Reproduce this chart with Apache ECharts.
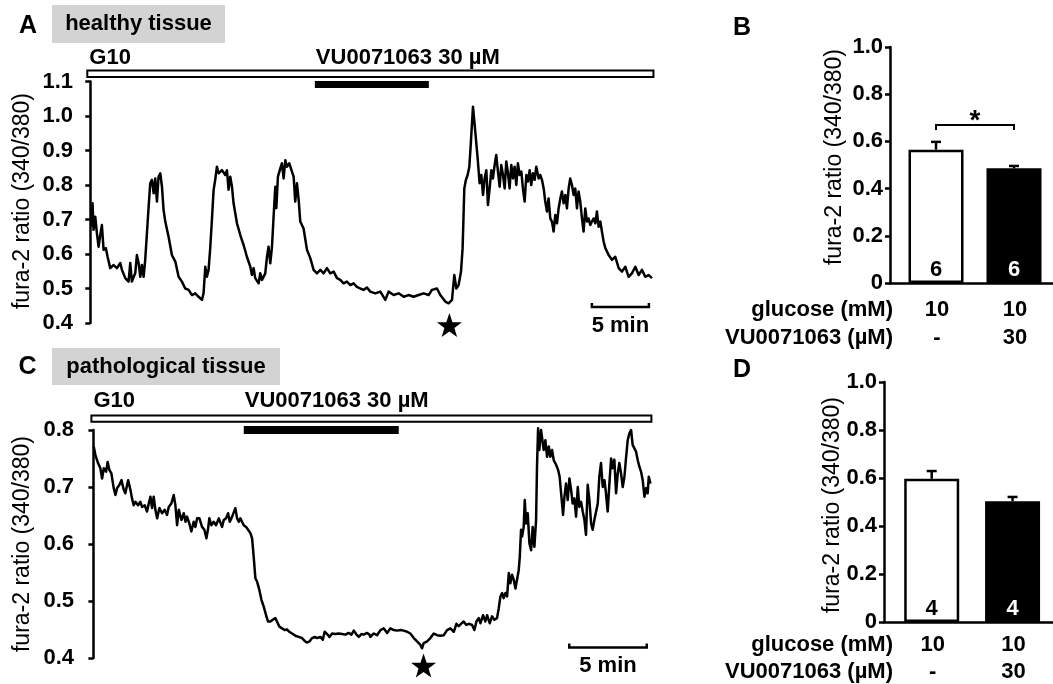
<!DOCTYPE html>
<html>
<head>
<meta charset="utf-8">
<script src="https://cdn.jsdelivr.net/npm/echarts@6/dist/echarts.min.js"></script>
<style>
html, body { margin: 0; padding: 0; background: #fff; }
#chart { width: 1053px; height: 684px; }
</style>
</head>
<body>
<div id="chart"></div>
<script>
// ---- fura-2 ratio traces: [time (min), ratio 340/380] ----
const healthyTrace = [
[0.09,0.679],[0.20,0.747],[0.29,0.670],[0.44,0.708],[0.58,0.661],[0.73,0.621],[0.88,0.655],[1.02,0.684],[1.17,0.612],[1.37,0.617],[1.52,0.592],[1.75,0.559],[2.05,0.568],[2.34,0.559],[2.63,0.574],[2.78,0.554],[3.07,0.530],[3.36,0.520],[3.51,0.574],[3.65,0.520],[3.95,0.545],[4.09,0.597],[4.24,0.574],[4.39,0.534],[4.53,0.568],[4.68,0.534],[4.82,0.583],[4.97,0.660],[5.12,0.737],[5.26,0.805],[5.41,0.815],[5.56,0.776],[5.70,0.819],[5.85,0.752],[5.99,0.824],[6.14,0.834],[6.29,0.795],[6.43,0.728],[6.58,0.694],[6.87,0.650],[7.16,0.597],[7.46,0.578],[7.75,0.534],[8.04,0.520],[8.33,0.500],[8.63,0.496],[8.92,0.481],[9.21,0.486],[9.50,0.476],[9.80,0.467],[9.94,0.487],[10.09,0.563],[10.23,0.534],[10.38,0.554],[10.53,0.621],[10.67,0.699],[10.82,0.786],[10.96,0.815],[11.11,0.853],[11.26,0.834],[11.55,0.843],[11.84,0.829],[11.99,0.843],[12.13,0.786],[12.28,0.824],[12.43,0.795],[12.57,0.747],[12.87,0.689],[13.16,0.655],[13.45,0.626],[13.74,0.592],[14.04,0.563],[14.18,0.539],[14.33,0.559],[14.47,0.530],[14.77,0.515],[14.91,0.544],[15.06,0.525],[15.35,0.544],[15.50,0.592],[15.64,0.621],[15.79,0.573],[15.94,0.621],[16.08,0.708],[16.23,0.795],[16.32,0.733],[16.46,0.824],[16.67,0.848],[16.81,0.863],[16.96,0.819],[17.11,0.872],[17.25,0.853],[17.46,0.863],[17.69,0.839],[17.84,0.824],[17.98,0.752],[18.13,0.805],[18.28,0.757],[18.42,0.694],[18.71,0.674],[19.01,0.612],[19.30,0.588],[19.59,0.554],[19.88,0.544],[20.18,0.554],[20.47,0.544],[20.76,0.559],[21.05,0.544],[21.35,0.549],[21.64,0.530],[21.93,0.525],[22.22,0.515],[22.51,0.520],[22.81,0.510],[23.10,0.515],[23.39,0.505],[23.68,0.500],[23.98,0.496],[24.27,0.503],
[24.56,0.491],[25.00,0.486],[25.44,0.491],[25.88,0.467],[26.17,0.491],[26.61,0.481],[27.05,0.486],[27.49,0.476],[27.92,0.481],[28.36,0.476],[28.80,0.481],[29.24,0.486],[29.68,0.481],[29.97,0.496],[30.41,0.500],[30.70,0.481],[31.14,0.462],[31.43,0.457],[31.73,0.467],[31.93,0.539],[32.11,0.500],[32.31,0.510],[32.52,0.549],[32.66,0.617],[32.81,0.790],[32.95,0.815],[33.10,0.829],[33.25,0.853],[33.39,0.926],[33.57,1.027],[33.77,0.955],[33.98,0.877],[34.15,0.805],[34.30,0.829],[34.45,0.771],[34.59,0.819],[34.74,0.843],[34.88,0.742],[35.03,0.790],[35.18,0.843],[35.32,0.819],[35.47,0.858],[35.61,0.887],[35.76,0.839],[35.91,0.795],[36.05,0.858],[36.20,0.829],[36.35,0.790],[36.49,0.868],[36.64,0.834],[36.78,0.790],[36.93,0.858],[37.08,0.819],[37.22,0.853],[37.37,0.800],[37.51,0.863],[37.66,0.829],[37.81,0.839],[37.95,0.790],[38.10,0.752],[38.25,0.829],[38.39,0.810],[38.54,0.843],[38.68,0.800],[38.83,0.834],[38.98,0.815],[39.12,0.853],[39.33,0.819],[39.47,0.829],[39.62,0.815],[39.77,0.790],[39.91,0.752],[40.06,0.723],[40.20,0.761],[40.35,0.703],[40.50,0.694],[40.64,0.665],[40.79,0.713],[40.94,0.689],[41.08,0.732],[41.23,0.761],[41.37,0.781],[41.52,0.747],[41.67,0.771],[41.81,0.732],[41.96,0.790],[42.10,0.819],[42.25,0.800],[42.40,0.771],[42.54,0.790],[42.69,0.732],[42.83,0.781],[42.98,0.752],[43.13,0.703],[43.27,0.665],[43.42,0.732],[43.57,0.694],[43.71,0.703],[43.86,0.684],[44.00,0.694],[44.15,0.703],[44.30,0.689],[44.44,0.723],[44.59,0.679],[44.74,0.694],[44.88,0.665],[45.03,0.636],[45.18,0.617],[45.47,0.597],[45.76,0.583],[46.05,0.592],[46.35,0.559],[46.64,0.549],[46.93,0.563],[47.22,0.534],[47.51,0.544],[47.81,0.563],[48.10,0.539],[48.39,0.554],[48.68,0.534],[48.98,0.539],[49.27,0.530]
];

const pathoTrace = [
[0.02,0.771],[0.13,0.756],[0.30,0.742],[0.45,0.733],[0.56,0.715],[0.67,0.733],[0.82,0.727],[0.92,0.744],[1.03,0.730],[1.16,0.724],[1.31,0.698],[1.42,0.686],[1.53,0.698],[1.68,0.704],[1.81,0.712],[1.96,0.695],[2.06,0.689],[2.24,0.712],[2.39,0.695],[2.49,0.680],[2.60,0.668],[2.71,0.674],[2.88,0.668],[3.03,0.674],[3.14,0.665],[3.31,0.668],[3.46,0.657],[3.57,0.671],[3.68,0.683],[3.78,0.663],[3.89,0.683],[4.00,0.660],[4.11,0.645],[4.26,0.663],[4.43,0.654],[4.60,0.660],[4.75,0.651],[4.86,0.665],[5.03,0.671],[5.18,0.686],[5.29,0.668],[5.40,0.633],[5.51,0.660],[5.68,0.642],[5.83,0.654],[5.94,0.639],[6.04,0.648],[6.19,0.636],[6.32,0.622],[6.47,0.639],[6.58,0.630],[6.69,0.645],[6.84,0.645],[7.01,0.630],[7.16,0.625],[7.29,0.610],[7.40,0.627],[7.48,0.645],[7.61,0.633],[7.76,0.639],[7.91,0.633],[8.09,0.645],[8.19,0.648],[8.30,0.630],[8.41,0.642],[8.56,0.645],[8.69,0.654],[8.80,0.639],[8.95,0.648],[9.05,0.648],[9.16,0.663],[9.27,0.645],[9.38,0.639],[9.48,0.645],[9.59,0.642],[9.70,0.633],[9.85,0.630],[9.98,0.625],[10.13,0.619],[10.24,0.610],[10.34,0.578],[10.45,0.540],[10.56,0.534],[10.71,0.519],[10.84,0.502],[10.99,0.490],[11.14,0.475],[11.27,0.464],[11.42,0.464],[11.57,0.467],[11.74,0.470],[11.85,0.467],[12.00,0.455],[12.17,0.452],[12.34,0.449],[12.49,0.450],[12.64,0.446],[12.82,0.443],[13.03,0.439],[13.25,0.437],[13.46,0.435],[13.63,0.430],[13.78,0.427],[13.94,0.429],[14.11,0.435],[14.28,0.437],[14.43,0.435],[14.65,0.437],[14.80,0.432],[14.92,0.446],[15.08,0.442],[15.23,0.437],[15.40,0.443],[15.61,0.442],[15.83,0.443],[16.04,0.442],[16.26,0.441],[16.47,0.444],[16.65,0.441],[16.80,0.448],[16.95,0.442],[17.12,0.437],[17.29,0.442],[17.44,0.441],[17.66,0.444],[17.81,0.441],
[17.87,0.437],[18.09,0.443],[18.30,0.440],[18.52,0.449],[18.73,0.452],[18.95,0.444],[19.16,0.452],[19.38,0.449],[19.59,0.448],[19.81,0.449],[20.02,0.448],[20.24,0.446],[20.45,0.443],[20.67,0.435],[20.88,0.429],[21.10,0.423],[21.20,0.417],[21.31,0.426],[21.53,0.429],[21.74,0.435],[21.96,0.443],[22.17,0.440],[22.39,0.439],[22.60,0.440],[22.82,0.449],[23.03,0.452],[23.25,0.446],[23.42,0.460],[23.57,0.456],[23.72,0.460],[23.89,0.464],[24.06,0.458],[24.22,0.460],[24.43,0.458],[24.58,0.449],[24.71,0.464],[24.86,0.470],[24.97,0.461],[25.14,0.475],[25.29,0.464],[25.40,0.475],[25.57,0.461],[25.72,0.473],[25.87,0.467],[26.04,0.470],[26.15,0.487],[26.26,0.508],[26.37,0.514],[26.47,0.505],[26.58,0.514],[26.69,0.508],[26.80,0.549],[26.90,0.531],[27.01,0.546],[27.12,0.537],[27.23,0.522],[27.34,0.519],[27.44,0.554],[27.51,0.578],[27.59,0.625],[27.66,0.613],[27.76,0.630],[27.83,0.677],[27.91,0.636],[28.02,0.654],[28.13,0.601],[28.24,0.589],[28.34,0.630],[28.45,0.595],[28.56,0.642],[28.62,0.736],[28.69,0.803],[28.77,0.765],[28.88,0.800],[28.99,0.803],[29.05,0.765],[29.16,0.782],[29.27,0.753],[29.38,0.771],[29.48,0.753],[29.59,0.765],[29.70,0.747],[29.85,0.739],[29.98,0.730],[30.08,0.718],[30.19,0.716],[30.30,0.651],[30.39,0.683],[30.49,0.706],[30.60,0.677],[30.71,0.715],[30.82,0.695],[30.92,0.671],[31.03,0.680],[31.14,0.648],[31.25,0.700],[31.35,0.665],[31.46,0.674],[31.57,0.657],[31.68,0.642],[31.78,0.616],[31.89,0.704],[32.00,0.677],[32.11,0.636],[32.21,0.625],[32.32,0.642],[32.43,0.645],[32.54,0.671],[32.64,0.718],[32.75,0.742],[32.86,0.700],[32.97,0.712],[33.07,0.689],[33.18,0.657],[33.29,0.706],[33.40,0.750],[33.50,0.733],[33.61,0.748],[33.72,0.689],[33.83,0.724],[33.93,0.742],[34.04,0.724],[34.15,0.700],[34.26,0.718],[34.36,0.750],[34.47,0.782],[34.58,0.794],[34.69,0.800],[34.79,0.774],[34.90,0.777],[35.01,0.762],[35.12,0.747],[35.22,0.736],[35.33,0.727],[35.44,0.712],[35.55,0.683],[35.66,0.698],[35.76,0.689],[35.83,0.718],[35.94,0.706]
];

// ---- perfusion protocol (min) ----
const healthyRecording = [-0.26, 49.4];   // G10 throughout
const healthyDrug = [19.7, 29.7];         // VU0071063 30 µM
const healthyStar = [31.5];
const healthyScaleBar = [44, 49];         // 5 min
const pathoRecording = [-0.13, 36.0];
const pathoDrug = [9.7, 19.7];
const pathoStar = [21.3];
const pathoScaleBar = [30.7, 35.7];

// ---- summary bars ----
const barPositions = [1, 2];
const glucoseRow = ['10', '10'];
const drugRow = ['-', '30'];
const healthyMean = [0.565, 0.486];
const healthySem = [0.033, 0.010];
const healthyN = [6, 6];
const pathoMean = [0.597, 0.503];
const pathoSem = [0.032, 0.018];
const pathoN = [4, 4];
const significance = [[1, 2, 0.669, '*']];

const Y_NAME = 'fura-2 ratio (340/380)';
const FONT = "'Liberation Sans', Arial, Helvetica, sans-serif";
const BOLD = 'bold 22px ' + FONT;
const STAR_PATH = 'M50,0 L61.8,35.1 L97.6,34.5 L69.1,56.3 L79.4,90.5 L50,70 L20.6,90.5 L30.9,56.3 L2.4,34.5 L38.2,35.1 Z';

const chart = echarts.init(document.getElementById('chart'), null, { renderer: 'canvas' });

function yAxisCfg(idx, min, max, interval, fmt) {
  return {
    type: 'value', gridIndex: idx, min: min, max: max, interval: interval,
    axisLine: { show: true, lineStyle: { color: '#000', width: 2.5 } },
    axisTick: { show: true, length: 5, lineStyle: { color: '#000', width: 2.5 } },
    axisLabel: { fontFamily: FONT, fontSize: 22, fontWeight: 'bold', color: '#000', margin: 7, formatter: fmt },
    splitLine: { show: false }
  };
}

function txt(text, x, y, align, vAlign, font, fill) {
  return { type: 'text', style: { text: text, x: x, y: y, align: align, verticalAlign: vAlign,
    textAlign: align, textVerticalAlign: vAlign, font: font, fill: fill || '#000' } };
}

// vertical axis title, reading bottom to top
function yName(cx, cy) {
  return { type: 'text', x: cx, y: cy, rotation: Math.PI / 2,
    style: { text: Y_NAME, x: 0, y: 0, align: 'center', verticalAlign: 'middle',
      textAlign: 'center', textVerticalAlign: 'middle', font: '23px ' + FONT, fill: '#000' } };
}

// protocol bars, star marker and time scale bar for a trace panel
function protocolSeries(idx, rec, drug, star, scale, yMax, yMin, lay) {
  return {
    type: 'custom', xAxisIndex: idx, yAxisIndex: idx, silent: true, z: 5, clip: false,
    data: [0],
    renderItem: function (params, api) {
      const top = api.coord([rec[0], yMax])[1];
      const bottom = api.coord([rec[0], yMin])[1];
      const x0 = api.coord([rec[0], yMax])[0];
      const x1 = api.coord([rec[1], yMax])[0];
      const d0 = api.coord([drug[0], yMax])[0];
      const d1 = api.coord([drug[1], yMax])[0];
      const sx = api.coord([star[0], yMin])[0];
      const s0 = api.coord([scale[0], yMin])[0];
      const s1 = api.coord([scale[1], yMin])[0];
      const sy = bottom - lay.scaleUp;
      return {
        type: 'group',
        children: [
          { type: 'rect', shape: { x: x0, y: top + lay.openY, width: x1 - x0, height: lay.openH },
            style: { fill: '#fff', stroke: '#000', lineWidth: 2 } },
          { type: 'rect', shape: { x: d0, y: top + lay.drugY, width: d1 - d0, height: lay.drugH },
            style: { fill: '#000' } },
          txt('G10', x0 + 2, top + lay.textY, 'left', 'middle', BOLD),
          txt('VU0071063 30 µM', d0 + 1, top + lay.textY, 'left', 'middle', BOLD),
          { type: 'path', shape: { pathData: STAR_PATH, x: sx - 12.5, y: bottom + lay.starDY - 12, width: 25, height: 24 },
            style: { fill: '#000' } },
          { type: 'polyline', shape: { points: [[s0, sy - 4], [s0, sy], [s1, sy], [s1, sy - 4]] },
            style: { stroke: '#000', lineWidth: 2.5, fill: null } },
          txt('5 min', (s0 + s1) / 2, bottom + lay.scaleTextDY, 'center', 'middle', BOLD)
        ]
      };
    }
  };
}

function traceSeries(idx, data) {
  return {
    type: 'line', xAxisIndex: idx, yAxisIndex: idx, data: data, showSymbol: false, symbol: 'none',
    clip: false, silent: true, lineStyle: { color: '#000', width: 2.5, join: 'round' }, z: 3
  };
}

function barSeries(idx, mean, n) {
  return {
    type: 'bar', xAxisIndex: idx, yAxisIndex: idx, barWidth: 55, silent: true, z: 2,
    data: mean.map(function (m, i) {
      return { value: [barPositions[i], m],
        itemStyle: { color: i ? '#000' : '#fff', borderColor: '#000', borderWidth: 2.5 },
        label: { color: i ? '#fff' : '#000' } };
    }),
    label: { show: true, position: 'insideBottom', distance: 2, fontFamily: FONT, fontSize: 22, fontWeight: 'bold',
      formatter: function (p) { return String(n[p.dataIndex]); } }
  };
}

function errorSeries(idx, mean, sem) {
  return {
    type: 'custom', xAxisIndex: idx, yAxisIndex: idx, silent: true, z: 4, clip: false,
    data: mean.map(function (m, i) { return [barPositions[i], m, sem[i]]; }),
    renderItem: function (params, api) {
      const x = api.value(0), m = api.value(1), e = api.value(2);
      const p0 = api.coord([x, m]);
      const p1 = api.coord([x, m + e]);
      return {
        type: 'group',
        children: [
          { type: 'line', shape: { x1: p0[0], y1: p0[1], x2: p1[0], y2: p1[1] }, style: { stroke: '#000', lineWidth: 2.5 } },
          { type: 'line', shape: { x1: p1[0] - 5, y1: p1[1], x2: p1[0] + 5, y2: p1[1] }, style: { stroke: '#000', lineWidth: 2.5 } }
        ]
      };
    }
  };
}

// condition table under the bars
function rowLabelSeries(idx, dy1, dy2) {
  return {
    type: 'custom', xAxisIndex: idx, yAxisIndex: idx, silent: true, clip: false,
    data: barPositions.map(function (p, i) { return [p, i]; }),
    renderItem: function (params, api) {
      const i = api.value(1);
      const p = api.coord([api.value(0), 0]);
      return {
        type: 'group',
        children: [
          txt(glucoseRow[i], p[0] + 1, p[1] + dy1, 'center', 'middle', BOLD),
          txt(drugRow[i], p[0] + 1, p[1] + dy2, 'center', 'middle', BOLD)
        ]
      };
    }
  };
}

function bracketSeries(idx, sig) {
  return {
    type: 'custom', xAxisIndex: idx, yAxisIndex: idx, silent: true, clip: false,
    data: sig.map(function (s) { return [s[0], s[1], s[2]]; }),
    renderItem: function (params, api) {
      const a = api.coord([api.value(0), api.value(2)]);
      const b = api.coord([api.value(1), api.value(2)]);
      return {
        type: 'group',
        children: [
          { type: 'polyline', shape: { points: [[a[0], a[1] + 5], a, b, [b[0], b[1] + 5]] },
            style: { stroke: '#000', lineWidth: 2, fill: null } },
          txt(sig[params.dataIndex][3], (a[0] + b[0]) / 2, a[1] - 4, 'center', 'middle', 'bold 28px ' + FONT)
        ]
      };
    }
  };
}

const fmt1 = function (v) { return v.toFixed(1); };
const fmtBar = function (v) { return v === 0 ? '0' : v.toFixed(1); };

const barX = function (idx) {
  return { type: 'value', gridIndex: idx, min: 0.41, max: 2.5, show: true,
    axisLine: { show: true, lineStyle: { color: '#000', width: 2.5 } },
    axisTick: { show: false }, axisLabel: { show: false }, splitLine: { show: false } };
};

const option = {
  animation: false,
  backgroundColor: '#fff',
  grid: [
    { left: 80, top: 81.5, width: 574.6, height: 241.5 },
    { left: 890, top: 47, width: 165, height: 236 },
    { left: 81, top: 430, width: 573.5, height: 228 },
    { left: 884, top: 382, width: 171, height: 240 }
  ],
  xAxis: [
    { type: 'value', gridIndex: 0, min: -0.9, max: 49.5, show: false },
    barX(1),
    { type: 'value', gridIndex: 2, min: -0.8, max: 36.2, show: false },
    barX(3)
  ],
  yAxis: [
    yAxisCfg(0, 0.4, 1.1, 0.1, fmt1),
    yAxisCfg(1, 0, 1, 0.2, fmtBar),
    yAxisCfg(2, 0.4, 0.8, 0.1, fmt1),
    yAxisCfg(3, 0, 1, 0.2, fmtBar)
  ],
  series: [
    traceSeries(0, healthyTrace),
    protocolSeries(0, healthyRecording, healthyDrug, healthyStar, healthyScaleBar, 1.1, 0.4,
      { openY: -11, openH: 6.5, drugY: -0.5, drugH: 7, textY: -24, starDY: 2, scaleUp: 16, scaleTextDY: 3 }),
    traceSeries(2, pathoTrace),
    protocolSeries(2, pathoRecording, pathoDrug, pathoStar, pathoScaleBar, 0.8, 0.4,
      { openY: -14.5, openH: 6.2, drugY: -4, drugH: 8, textY: -29, starDY: 7.5, scaleUp: 10.5, scaleTextDY: 8 }),
    barSeries(1, healthyMean, healthyN),
    errorSeries(1, healthyMean, healthySem),
    rowLabelSeries(1, 27, 55),
    bracketSeries(1, significance),
    barSeries(3, pathoMean, pathoN),
    errorSeries(3, pathoMean, pathoSem),
    rowLabelSeries(3, 23, 50)
  ],
  graphic: [
    { type: 'rect', shape: { x: 52, y: 5, width: 173, height: 38 }, style: { fill: '#d3d3d3' } },
    txt('healthy tissue', 138.5, 24, 'center', 'middle', BOLD),
    txt('A', 28, 26, 'center', 'middle', 'bold 25px ' + FONT),
    { type: 'rect', shape: { x: 52, y: 348, width: 228, height: 37 }, style: { fill: '#d3d3d3' } },
    txt('pathological tissue', 166, 366.5, 'center', 'middle', BOLD),
    txt('C', 27.5, 367, 'center', 'middle', 'bold 25px ' + FONT),
    txt('B', 742, 28, 'center', 'middle', 'bold 25px ' + FONT),
    txt('D', 742, 370, 'center', 'middle', 'bold 25px ' + FONT),
    txt('glucose (mM)', 893, 310, 'right', 'middle', BOLD),
    txt('VU0071063 (µM)', 893, 338, 'right', 'middle', BOLD),
    txt('glucose (mM)', 893, 645, 'right', 'middle', BOLD),
    txt('VU0071063 (µM)', 893, 672, 'right', 'middle', BOLD),
    yName(23, 201),
    yName(835, 157),
    yName(23, 544),
    yName(833, 505)
  ]
};

chart.setOption(option);
</script>
</body>
</html>
